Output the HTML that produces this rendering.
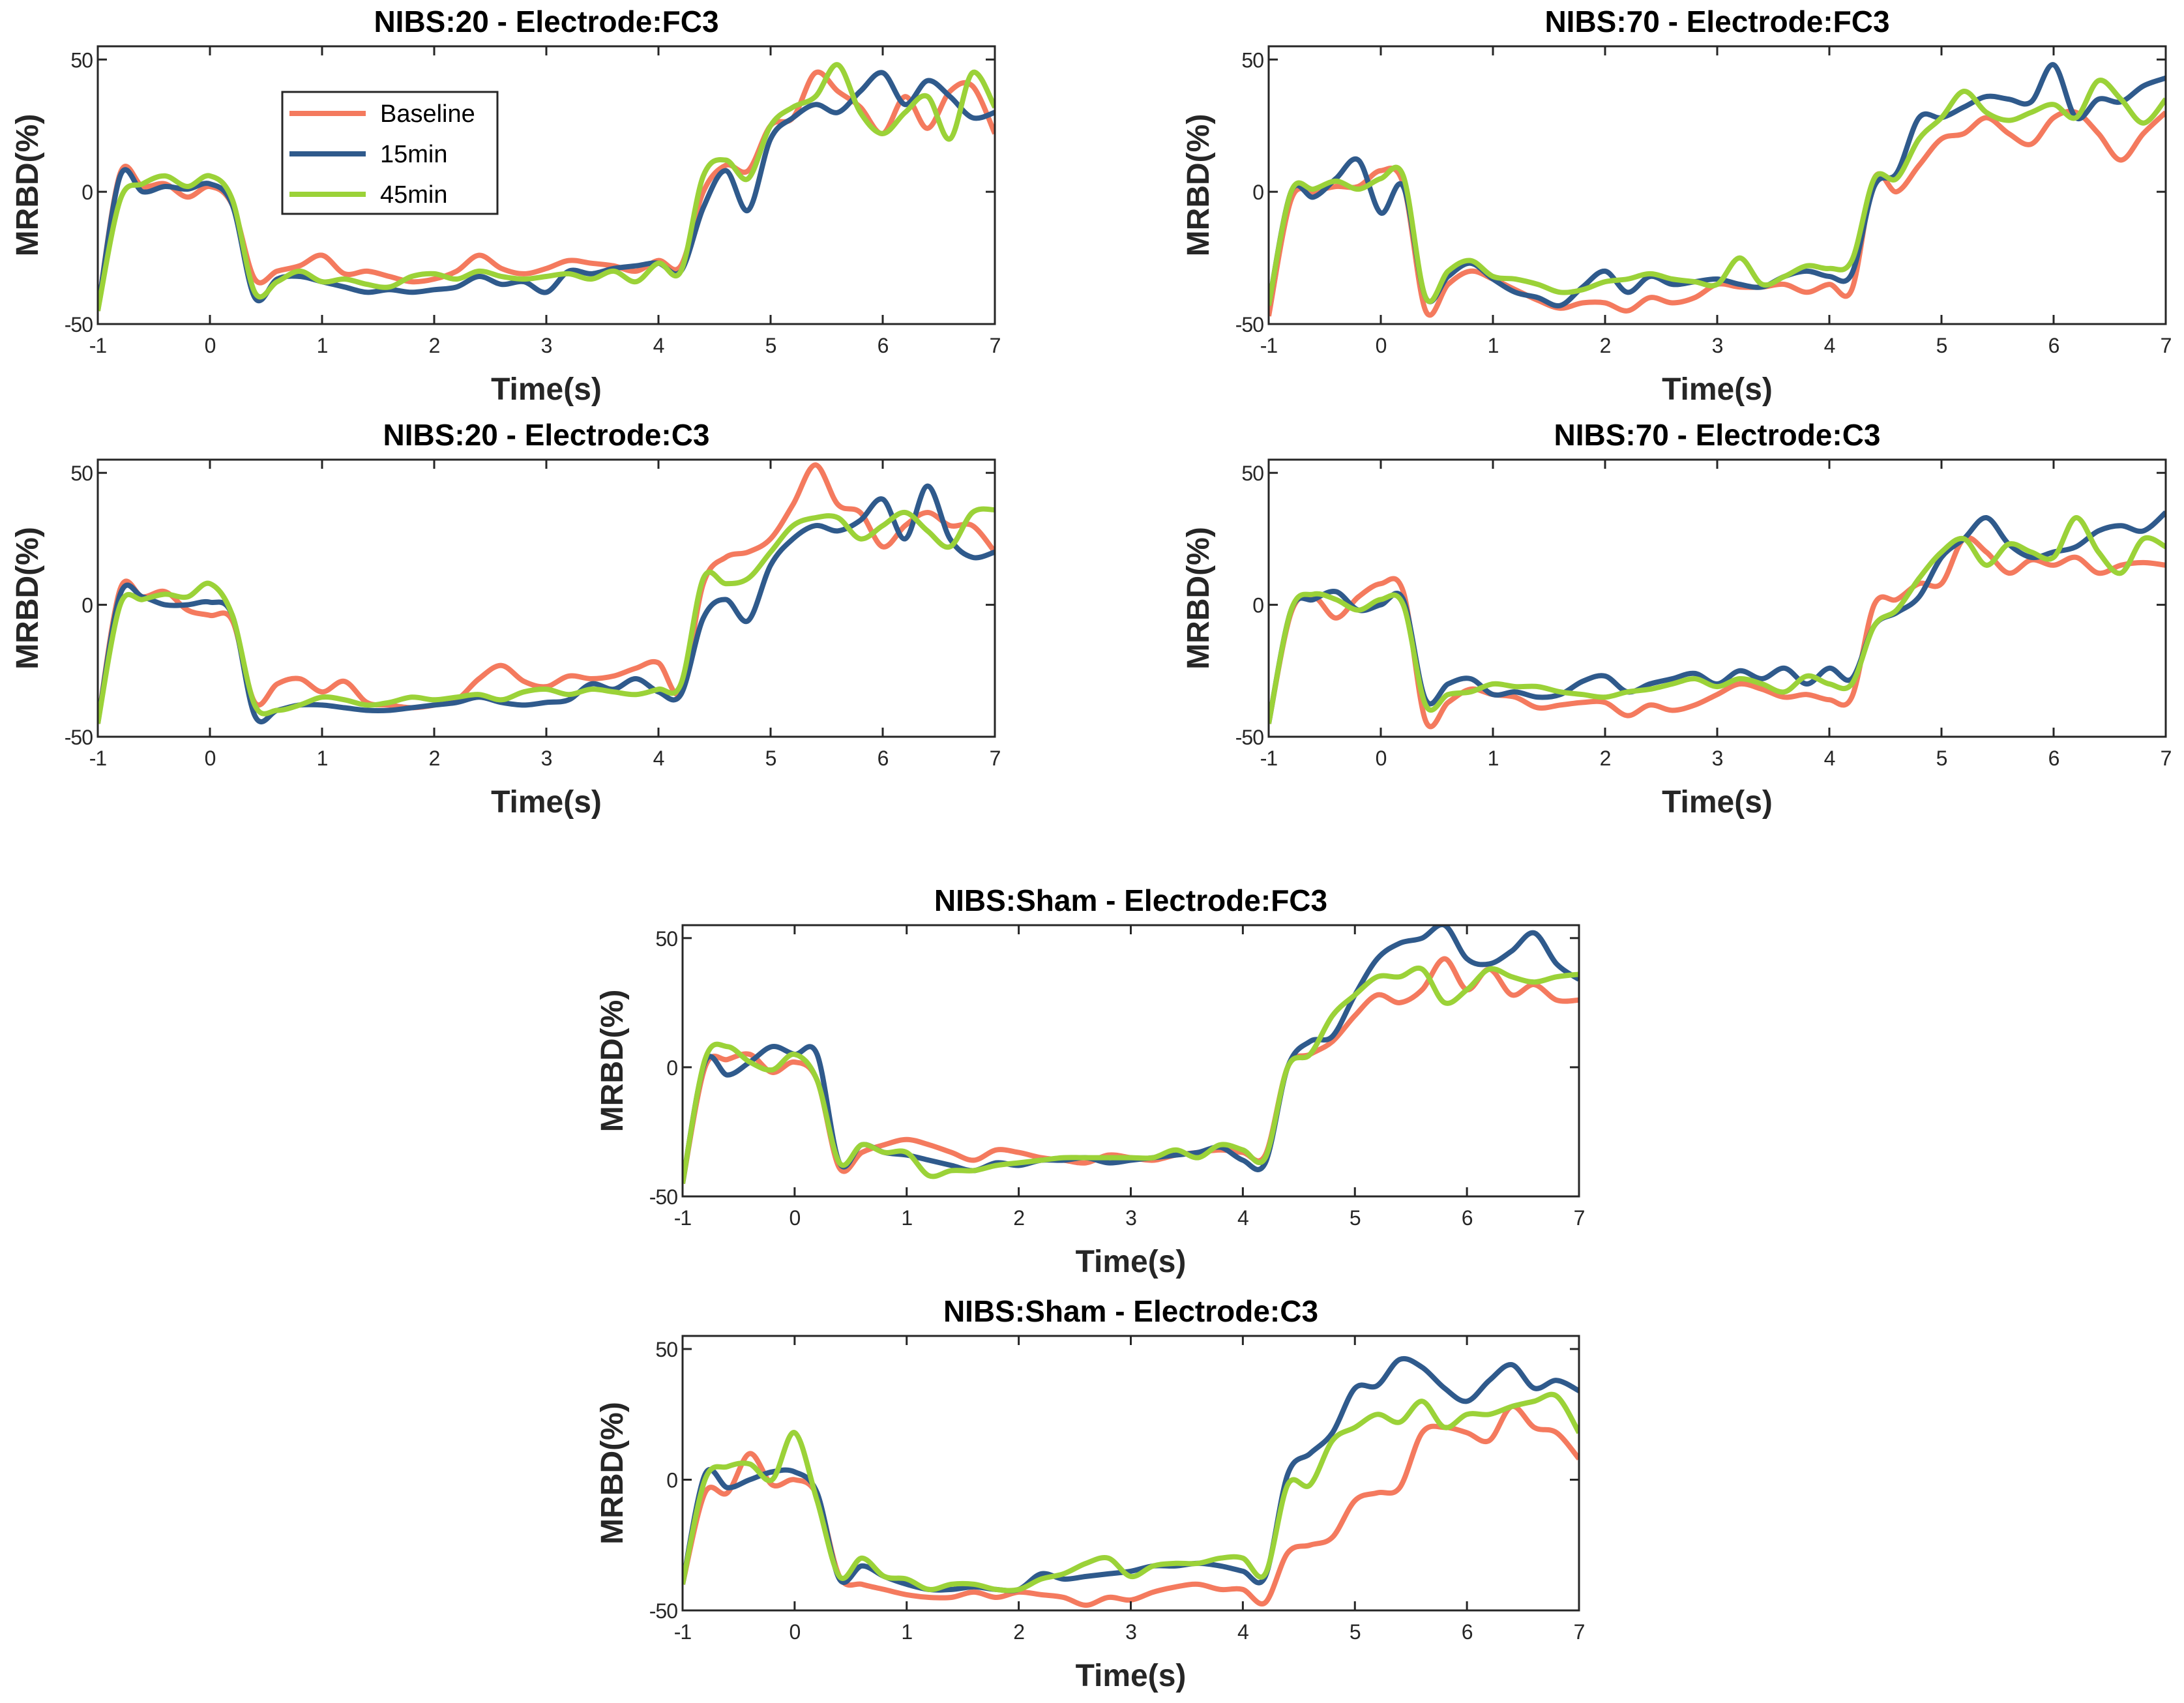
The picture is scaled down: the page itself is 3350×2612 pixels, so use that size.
<!DOCTYPE html>
<html><head><meta charset="utf-8">
<style>
body{margin:0;background:#fff}
svg{display:block}
text{font-family:"Liberation Sans",sans-serif;fill:#262626}
.tick{font-family:"Liberation Sans Narrow","Liberation Sans",sans-serif;font-size:32px;letter-spacing:-1px}
.title{font-weight:bold;font-size:46px;fill:#000}
.lab{font-weight:bold;font-size:48px}
</style></head>
<body>
<svg id="fig" width="3350" height="2612" viewBox="0 0 3350 2612" xmlns="http://www.w3.org/2000/svg"></svg>
<script>
const times = Array.from({length:41},(_,i)=>-1+i*0.2);
const xTicks = [-1,0,1,2,3,4,5,6,7];
const yTicks = [-50,0,50];
const seriesNames = ["Baseline","15min","45min"];
const colors = ["#F47A5E","#2F5A8C","#9BD238"];

const p1Base = [-45,7,2,3,-2,2,-5,-33,-30,-28,-24,-31,-30,-32,-34,-33,-30,-24,-29,-31,-29,-26,-27,-28,-30,-26,-28,0,10,8,25,28,45,38,32,22,36,24,38,40,22];
const p1M15 = [-45,6,0,2,1,3,-5,-40,-33,-32,-34,-36,-38,-37,-38,-37,-36,-32,-35,-34,-38,-30,-31,-29,-28,-27,-30,-6,8,-7,20,28,33,30,38,45,33,42,36,28,30];
const p1M45 = [-45,-3,3,6,2,6,-3,-38,-34,-30,-34,-33,-35,-36,-32,-31,-33,-30,-32,-33,-32,-31,-33,-30,-34,-27,-30,6,12,5,25,32,36,48,30,22,30,36,20,45,32];

const p2Base = [-45,6,3,5,-2,-4,-6,-37,-30,-28,-33,-29,-37,-38,-39,-38,-36,-28,-23,-29,-31,-27,-28,-27,-24,-22,-33,8,18,20,25,38,53,38,35,22,30,35,30,30,20];
const p2M15 = [-45,4,3,0,0,1,-4,-42,-40,-38,-38,-39,-40,-40,-39,-38,-37,-35,-37,-38,-37,-36,-30,-32,-28,-33,-34,-5,2,-6,15,25,30,28,32,40,25,45,25,18,20];
const p2M45 = [-45,0,2,4,3,8,-4,-38,-40,-38,-35,-36,-38,-37,-35,-36,-35,-34,-36,-33,-32,-34,-32,-33,-34,-32,-30,10,8,10,20,30,33,33,25,30,35,28,22,35,36];

const p3Base = [-47,-3,0,2,2,8,3,-45,-35,-30,-33,-37,-41,-44,-42,-42,-45,-40,-42,-40,-35,-36,-36,-35,-38,-35,-37,5,0,10,20,22,28,22,18,28,30,22,12,22,30];
const p3M15 = [-43,0,-2,5,12,-8,2,-40,-32,-27,-33,-38,-40,-43,-36,-30,-38,-32,-35,-34,-33,-35,-36,-32,-30,-32,-31,2,7,28,28,32,36,35,34,48,28,35,34,40,43];
const p3M45 = [-43,0,1,4,1,5,6,-40,-30,-26,-32,-33,-35,-38,-37,-34,-33,-31,-33,-34,-35,-25,-35,-32,-28,-29,-26,5,5,20,28,38,30,27,30,33,28,42,35,26,35];

const p4Base = [-45,-3,3,-5,3,8,5,-44,-37,-32,-34,-35,-39,-38,-37,-37,-42,-38,-40,-38,-34,-30,-32,-35,-34,-36,-35,0,2,8,8,25,20,12,17,15,18,12,15,16,15];
const p4M15 = [-45,-2,2,5,-2,0,2,-36,-30,-28,-34,-33,-35,-34,-29,-27,-33,-30,-28,-26,-30,-25,-28,-24,-30,-24,-28,-8,-3,3,18,25,33,23,18,20,22,28,30,28,35];
const p4M45 = [-45,-2,4,2,-2,2,0,-38,-34,-33,-30,-31,-31,-33,-34,-35,-33,-32,-30,-28,-31,-28,-30,-33,-27,-30,-30,-8,-2,10,20,25,15,23,20,18,33,20,12,25,22];

const p5Base = [-45,0,3,5,-2,2,-5,-39,-33,-30,-28,-30,-33,-36,-32,-33,-35,-36,-37,-34,-35,-36,-34,-33,-32,-33,-34,0,5,10,20,28,25,30,42,30,38,28,32,26,26];
const p5M15 = [-45,2,-3,2,8,5,5,-37,-30,-33,-34,-36,-38,-40,-37,-38,-36,-36,-35,-37,-36,-35,-34,-33,-31,-36,-37,0,10,12,28,42,48,50,55,42,40,45,52,40,34];
const p5M45 = [-45,3,8,2,-1,5,-5,-37,-30,-33,-33,-42,-40,-40,-38,-37,-36,-35,-35,-35,-35,-35,-32,-35,-30,-32,-35,0,5,20,28,35,35,38,25,30,38,35,33,35,36];

const p6Base = [-40,-5,-5,10,-2,0,-6,-37,-40,-42,-44,-45,-45,-43,-45,-43,-44,-45,-48,-45,-46,-43,-41,-40,-42,-42,-47,-28,-25,-22,-8,-5,-3,18,20,18,15,28,20,18,8];
const p6M15 = [-40,2,-3,0,3,3,-5,-38,-33,-37,-40,-42,-42,-41,-42,-42,-36,-38,-37,-36,-35,-33,-33,-32,-33,-35,-37,2,10,18,35,36,46,43,35,30,38,44,35,38,34];
const p6M45 = [-40,0,5,6,0,18,-8,-37,-30,-37,-38,-42,-40,-40,-42,-42,-38,-36,-32,-30,-37,-33,-32,-32,-30,-30,-36,-2,-2,15,20,25,22,30,20,25,25,28,30,32,18];

const titles = ["NIBS:20 - Electrode:FC3","NIBS:70 - Electrode:FC3","NIBS:20 - Electrode:C3","NIBS:70 - Electrode:C3","NIBS:Sham - Electrode:FC3","NIBS:Sham - Electrode:C3"];

const NS="http://www.w3.org/2000/svg";
const svg=document.getElementById('fig');
function mk(tag,attrs,parent){const e=document.createElementNS(NS,tag);for(const k in attrs)e.setAttribute(k,attrs[k]);(parent||svg).appendChild(e);return e;}

const panels=[
 {x0:150,x1:1526,y0:71,y1:497,d:[p1Base,p1M15,p1M45],t:titles[0],key:"nibs20-fc3",legend:true},
 {x0:1946,x1:3322,y0:71,y1:497,d:[p3Base,p3M15,p3M45],t:titles[1],key:"nibs70-fc3"},
 {x0:150,x1:1526,y0:705,y1:1130,d:[p2Base,p2M15,p2M45],t:titles[2],key:"nibs20-c3"},
 {x0:1946,x1:3322,y0:705,y1:1130,d:[p4Base,p4M15,p4M45],t:titles[3],key:"nibs70-c3"},
 {x0:1047,x1:2422,y0:1419,y1:1835,d:[p5Base,p5M15,p5M45],t:titles[4],key:"sham-fc3"},
 {x0:1047,x1:2422,y0:2049,y1:2470,d:[p6Base,p6M15,p6M45],t:titles[5],key:"sham-c3"}
];

function pathFrom(pts){
 let s="M"+pts[0][0].toFixed(1)+","+pts[0][1].toFixed(1);
 for(let i=0;i<pts.length-1;i++){
  const p0=pts[Math.max(0,i-1)],p1=pts[i],p2=pts[i+1],p3=pts[Math.min(pts.length-1,i+2)];
  const c1x=p1[0]+(p2[0]-p0[0])/6,c1y=p1[1]+(p2[1]-p0[1])/6;
  const c2x=p2[0]-(p3[0]-p1[0])/6,c2y=p2[1]-(p3[1]-p1[1])/6;
  s+=" C"+c1x.toFixed(1)+","+c1y.toFixed(1)+" "+c2x.toFixed(1)+","+c2y.toFixed(1)+" "+p2[0].toFixed(1)+","+p2[1].toFixed(1);
 }
 return s;
}

panels.forEach(P=>{
 const g=mk('g',{});
 
 
 const xs=v=>P.x0+(v+1)/8*(P.x1-P.x0);
 const ys=v=>P.y1-(v+50)/105*(P.y1-P.y0);
 const clipId='clip-'+P.key;
 const cp=mk('clipPath',{id:clipId},g);
 mk('rect',{x:P.x0,y:P.y0,width:P.x1-P.x0,height:P.y1-P.y0},cp);
 P.d.forEach((arr,si)=>{
  const pts=arr.map((v,i)=>[xs(times[i]),ys(v)]);
  const path=mk('path',{d:pathFrom(pts),fill:'none',stroke:colors[si],'stroke-width':8,'stroke-linejoin':'round','clip-path':'url(#'+clipId+')'},g);
  
  
 });
 const box=mk('rect',{x:P.x0,y:P.y0,width:P.x1-P.x0,height:P.y1-P.y0,fill:'none',stroke:'#262626','stroke-width':3},g);
 
 
 xTicks.forEach(t=>{
  const x=xs(t);
  mk('line',{x1:x,x2:x,y1:P.y1,y2:P.y1-14,stroke:'#262626','stroke-width':3},g);
  mk('line',{x1:x,x2:x,y1:P.y0,y2:P.y0+14,stroke:'#262626','stroke-width':3},g);
  const tl=mk('text',{x:x,y:P.y1+44,'text-anchor':'middle',class:'tick'},g);
  tl.textContent=String(t);
  
  
 });
 yTicks.forEach(t=>{
  const y=ys(t);
  mk('line',{x1:P.x0,x2:P.x0+14,y1:y,y2:y,stroke:'#262626','stroke-width':3},g);
  mk('line',{x1:P.x1,x2:P.x1-14,y1:y,y2:y,stroke:'#262626','stroke-width':3},g);
  const tl=mk('text',{x:P.x0-8,y:y+12,'text-anchor':'end',class:'tick'},g);
  tl.textContent=String(t);
  
  
 });
 const ti=mk('text',{x:(P.x0+P.x1)/2,y:P.y0-22,'text-anchor':'middle',class:'title'},g);
 ti.textContent=P.t;
 
 
 const xl=mk('text',{x:(P.x0+P.x1)/2,y:P.y1+116,'text-anchor':'middle',class:'lab'},g);
 xl.textContent='Time(s)';
 
 
 const cy=(P.y0+P.y1)/2, cx=P.x0-92;
 const yl=mk('text',{x:cx,y:cy,'text-anchor':'middle',class:'lab',transform:'rotate(-90 '+cx+' '+cy+')'},g);
 yl.textContent='MRBD(%)';
 
 
 if(P.legend){
  const lg=mk('g',{},g);
  
  
  mk('rect',{x:433,y:141,width:330,height:187,fill:'#fff',stroke:'#262626','stroke-width':3},lg);
  seriesNames.forEach((n,i)=>{
   const y=174+i*62;
   const e=mk('g',{},lg);
   
   
   mk('line',{x1:444,x2:561,y1:y,y2:y,stroke:colors[i],'stroke-width':8},e);
   const t=mk('text',{x:583,y:y+13,style:'font-size:38px;fill:#000'},e);
   t.textContent=n;
  });
 }
});
</script>
</body></html>
